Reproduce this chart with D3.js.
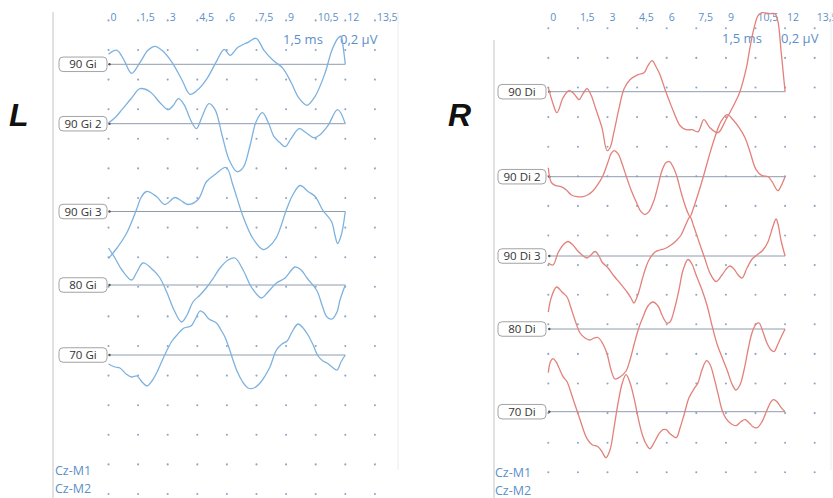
<!DOCTYPE html>
<html><head><meta charset="utf-8">
<script src="https://cdn.jsdelivr.net/npm/d3@7/dist/d3.min.js"></script>
<style>
html,body{margin:0;padding:0;background:#fff;}
svg{display:block;}
</style></head>
<body>
<svg id="chart" width="833" height="498"></svg>
<script>
// ---------- data ----------
const timeTicks = [0, 1.5, 3, 4.5, 6, 7.5, 9, 10.5, 12, 13.5];
const tickLabels = ["0", "1,5", "3", "4,5", "6", "7,5", "9", "10,5", "12", "13,5"];
const leftLabels = ["90 Gi", "90 Gi 2", "90 Gi 3", "80 Gi", "70 Gi"];
const rightLabels = ["90 Di", "90 Di 2", "90 Di 3", "80 Di", "70 Di"];
const channelLabels = ["Cz-M1", "Cz-M2"];
const scaleLabels = ["1,5 ms", "0,2 µV"];

// [time ms, amplitude µV]
const gi90 = [[0,0.10],[0.43,0.14],[0.79,0.04],[1.17,-0.09],[1.6,0.02],[2.0,0.14],[2.36,0.18],[2.71,0.14],[3.22,0.02],[3.73,-0.16],[4.13,-0.30],[4.49,-0.26],[5.0,-0.14],[5.5,0.04],[5.86,0.15],[6.16,0.09],[6.56,0.17],[7.07,0.22],[7.48,0.26],[7.88,0.14],[8.34,0.04],[8.84,-0.04],[9.25,-0.18],[9.66,-0.34],[10.06,-0.41],[10.47,-0.32],[10.97,-0.09],[11.32,0.14],[11.63,0.26],[11.78,0.28],[11.9,0.16],[12,0]];
const gi90b = [[0,0.01],[0.33,0.06],[0.68,0.14],[1.14,0.25],[1.6,0.35],[2.1,0.32],[2.61,0.21],[3.02,0.14],[3.27,0.18],[3.55,0.25],[3.83,0.19],[4.18,0.03],[4.46,-0.05],[4.74,0.07],[5.09,0.20],[5.4,0.14],[5.75,-0.11],[6.11,-0.36],[6.51,-0.48],[6.82,-0.44],[7.17,-0.22],[7.48,0.02],[7.8,0.11],[8.08,0.02],[8.39,-0.13],[8.69,-0.19],[8.95,-0.23],[9.25,-0.15],[9.66,-0.05],[10.01,-0.09],[10.42,-0.14],[10.72,-0.11],[11.12,-0.02],[11.61,0.14],[12,0]];
const gi90c = [[0,-0.47],[0.41,-0.37],[0.91,-0.22],[1.42,0.02],[1.65,0.14],[1.93,0.20],[2.43,0.15],[2.86,0.07],[3.37,0.14],[3.67,0.11],[4.03,0.07],[4.54,0.12],[4.97,0.30],[5.4,0.37],[5.96,0.44],[6.31,0.26],[6.82,-0.05],[7.32,-0.27],[7.83,-0.38],[8.08,-0.36],[8.51,-0.26],[9.02,0.02],[9.35,0.17],[9.71,0.26],[10.11,0.20],[10.47,0.15],[10.87,0.01],[11.3,-0.10],[11.48,-0.24],[11.61,-0.32],[11.79,-0.24],[12,0]];
const gi80 = [[0,0.37],[0.33,0.27],[0.68,0.15],[1.17,0.05],[1.44,0.13],[1.75,0.22],[2.26,0.15],[2.61,0.07],[2.97,-0.08],[3.32,-0.25],[3.7,-0.37],[3.98,-0.30],[4.28,-0.17],[4.64,-0.10],[4.99,-0.02],[5.35,0.08],[5.65,0.17],[6.06,0.25],[6.41,0.27],[6.82,0.15],[7.27,-0.03],[7.75,-0.13],[8.08,-0.07],[8.51,0.02],[8.95,0.07],[9.45,0.18],[9.76,0.15],[10.06,0.07],[10.57,-0.06],[10.82,-0.20],[11.07,-0.32],[11.33,-0.34],[11.58,-0.27],[11.73,-0.15],[12,0]];
const gi70 = [[0,-0.09],[0.33,-0.12],[0.58,-0.13],[0.89,-0.19],[1.17,-0.22],[1.44,-0.21],[1.7,-0.27],[1.95,-0.31],[2.2,-0.26],[2.46,-0.17],[2.71,-0.06],[2.97,0.05],[3.22,0.14],[3.47,0.20],[3.83,0.27],[4.18,0.29],[4.43,0.37],[4.64,0.44],[4.84,0.42],[5.09,0.36],[5.47,0.32],[5.7,0.25],[5.9,0.18],[6.11,0.07],[6.31,-0.05],[6.51,-0.16],[6.77,-0.26],[7.07,-0.33],[7.37,-0.33],[7.68,-0.28],[7.93,-0.21],[8.18,-0.12],[8.51,0.05],[8.79,0.11],[9.05,0.14],[9.3,0.23],[9.6,0.31],[9.86,0.27],[10.11,0.20],[10.37,0.10],[10.62,-0.01],[10.87,-0.06],[11.07,-0.08],[11.33,-0.12],[11.58,-0.15],[11.78,-0.07],[12,0]];

const di90 = [[0,0.04],[0.24,-0.12],[0.44,-0.21],[0.75,-0.06],[1.05,0.01],[1.3,-0.02],[1.56,-0.08],[1.76,-0.02],[1.96,0.03],[2.16,-0.03],[2.42,-0.18],[2.72,-0.36],[2.98,-0.59],[3.13,-0.56],[3.33,-0.40],[3.58,-0.17],[3.84,0.03],[4.14,0.12],[4.55,0.17],[4.85,0.19],[5.05,0.26],[5.26,0.31],[5.46,0.25],[5.66,0.17],[5.92,0.02],[6.17,-0.11],[6.37,-0.21],[6.68,-0.34],[6.99,-0.38],[7.28,-0.38],[7.59,-0.40],[7.88,-0.28],[8.19,-0.36],[8.6,-0.41],[9.0,-0.28],[9.46,-0.11],[9.71,0.00],[10.05,0.25],[10.22,0.44],[10.43,0.64],[10.63,0.76],[10.83,0.79],[11.23,0.78],[11.49,0.78],[11.64,0.70],[11.79,0.42],[11.95,0.10],[12,0]];
const di90b = [[0,0.09],[0.16,-0.06],[0.39,-0.09],[0.64,-0.10],[0.9,-0.13],[1.15,-0.18],[1.45,-0.20],[1.76,-0.20],[2.01,-0.18],[2.27,-0.14],[2.47,-0.09],[2.77,0.01],[3.03,0.15],[3.18,0.23],[3.33,0.26],[3.53,0.23],[3.74,0.13],[3.94,0.01],[4.19,-0.13],[4.45,-0.25],[4.7,-0.35],[4.9,-0.38],[5.1,-0.35],[5.35,-0.24],[5.56,-0.09],[5.76,0.06],[5.96,0.14],[6.14,0.15],[6.32,0.10],[6.52,0.00],[6.72,-0.15],[6.92,-0.28],[7.07,-0.36],[7.18,-0.40],[7.33,-0.33],[7.58,-0.18],[7.84,-0.01],[8.14,0.20],[8.45,0.40],[8.75,0.55],[9.06,0.62],[9.36,0.57],[9.67,0.49],[9.97,0.39],[10.22,0.25],[10.53,0.07],[10.83,0.01],[11.14,0.00],[11.34,-0.05],[11.64,-0.14],[11.8,-0.09],[12,0]];
const di90c = [[0,-0.07],[0.24,-0.09],[0.49,0.03],[0.75,0.11],[1.0,0.145],[1.25,0.11],[1.45,0.06],[1.71,0.01],[1.96,-0.02],[2.16,0.01],[2.37,0.045],[2.57,0.00],[2.72,-0.06],[3.03,-0.12],[3.33,-0.20],[3.63,-0.27],[3.99,-0.36],[4.19,-0.42],[4.34,-0.47],[4.55,-0.38],[4.75,-0.24],[4.95,-0.11],[5.1,-0.04],[5.41,0.04],[5.66,0.06],[5.92,0.075],[6.22,0.11],[6.47,0.15],[6.73,0.21],[6.98,0.32],[7.18,0.39],[7.38,0.29],[7.64,0.14],[7.94,-0.03],[8.19,-0.17],[8.5,-0.255],[8.8,-0.19],[9.06,-0.12],[9.21,-0.10],[9.41,-0.13],[9.62,-0.19],[9.82,-0.22],[10.07,-0.12],[10.33,-0.03],[10.58,0.01],[10.88,0.06],[11.13,0.14],[11.39,0.30],[11.54,0.37],[11.64,0.32],[11.79,0.16],[12,0]];
const di80 = [[0,0.17],[0.16,0.32],[0.42,0.42],[0.69,0.37],[0.95,0.32],[1.15,0.21],[1.35,0.09],[1.61,-0.04],[1.86,-0.09],[2.11,-0.11],[2.32,-0.09],[2.52,-0.085],[2.77,-0.15],[2.98,-0.25],[3.18,-0.41],[3.38,-0.50],[3.63,-0.48],[3.94,-0.42],[4.14,-0.31],[4.34,-0.16],[4.6,0.02],[4.8,0.12],[5.05,0.23],[5.3,0.27],[5.56,0.23],[5.76,0.14],[6.01,0.06],[6.17,0.07],[6.42,0.22],[6.62,0.39],[6.83,0.59],[7.08,0.695],[7.28,0.65],[7.49,0.54],[7.79,0.39],[8.04,0.24],[8.29,0.04],[8.55,-0.15],[8.8,-0.28],[9.06,-0.41],[9.31,-0.55],[9.51,-0.61],[9.71,-0.56],[9.92,-0.41],[10.12,-0.21],[10.32,-0.04],[10.53,0.05],[10.68,0.06],[10.88,-0.03],[11.08,-0.14],[11.29,-0.21],[11.44,-0.225],[11.64,-0.15],[11.85,-0.06],[12,0]];
const di70 = [[0,0.39],[0.11,0.50],[0.24,0.53],[0.39,0.50],[0.54,0.44],[0.75,0.35],[0.95,0.30],[1.1,0.22],[1.3,0.10],[1.61,-0.08],[1.96,-0.27],[2.22,-0.33],[2.52,-0.35],[2.72,-0.40],[2.92,-0.46],[3.13,-0.38],[3.33,-0.16],[3.53,0.08],[3.74,0.28],[3.94,0.37],[4.14,0.29],[4.34,0.14],[4.55,-0.06],[4.75,-0.22],[4.95,-0.32],[5.15,-0.37],[5.36,-0.31],[5.61,-0.22],[5.81,-0.18],[5.97,-0.18],[6.17,-0.22],[6.48,-0.26],[6.68,-0.16],[6.88,-0.03],[7.13,0.14],[7.39,0.23],[7.59,0.29],[7.79,0.42],[8.02,0.51],[8.2,0.47],[8.4,0.34],[8.6,0.18],[8.8,0.02],[9.01,-0.07],[9.26,-0.12],[9.51,-0.14],[9.76,-0.10],[9.97,-0.08],[10.17,-0.11],[10.37,-0.15],[10.58,-0.16],[10.83,-0.10],[11.09,0.02],[11.29,0.10],[11.41,0.12],[11.59,0.10],[11.8,0.04],[12,0]];

const leftSeries = [gi90, gi90b, gi90c, gi80, gi70];
const rightSeries = [di90, di90b, di90c, di80, di70];

// ---------- layout ----------
const panels = [
  { side: "L", sideX: 9, sideY: 126, x0: 108.5, gridTop: 20.4, rows: 17, borderX: 53, farX: 398,
    boxX: 59, color: "#7db2de", labels: leftLabels, series: leftSeries,
    bases: [64.3, 123.7, 211.5, 285, 355], msX: 283, uvX: 340, scaleY: 44, czX: 55, czY: [475, 493] },
  { side: "R", sideX: 448, sideY: 126, x0: 548.3, gridTop: 28.3, rows: 16, borderX: 494, farX: 831,
    boxX: 498, color: "#e2817a", labels: rightLabels, series: rightSeries,
    bases: [91.7, 176.7, 256, 329, 411.7], msX: 722, uvX: 781, scaleY: 43, czX: 495, czY: [477, 495] }
];
const step = 29.6;
const pxPerUnit = 100; // px per µV

const svg = d3.select("#chart");
const font = "'Open Sans', 'Noto Sans', sans-serif";

panels.forEach(p => {
  const x = d3.scaleLinear().domain([0, 13.5]).range([p.x0, p.x0 + step * 9]);
  const g = svg.append("g");

  // borders
  g.append("line").attr("x1", p.borderX).attr("x2", p.borderX).attr("y1", p.side === "L" ? 12 : 40).attr("y2", 498)
    .attr("stroke", "#c4c4c4").attr("stroke-width", 1);
  g.append("line").attr("x1", p.farX).attr("x2", p.farX).attr("y1", 12).attr("y2", 470)
    .attr("stroke", "#ececec").attr("stroke-width", 1);

  // tick labels
  g.selectAll("text.tick").data(timeTicks).join("text")
    .attr("x", (d) => x(d) + 2).attr("y", 21)
    .attr("font-family", font).attr("font-size", 10.5).attr("fill", "#5b8fca")
    .text((d, i) => tickLabels[i]);

  // grid dots
  const rowsArr = d3.range(p.rows).map(k => p.gridTop + k * step);
  rowsArr.forEach(ry => {
    g.selectAll(null).data(timeTicks).join("circle")
      .attr("cx", d => x(d)).attr("cy", ry).attr("r", 1.05)
      .attr("fill", "#8da6c6");
  });

  // scale labels
  g.append("text").attr("x", p.msX).attr("y", p.scaleY).attr("font-family", font).attr("font-size", 13)
    .attr("fill", "#5b8fca").text(scaleLabels[0]);
  g.append("text").attr("x", p.uvX).attr("y", p.scaleY).attr("font-family", font).attr("font-size", 13)
    .attr("fill", "#5b8fca").text(scaleLabels[1]);

  // channel labels
  channelLabels.forEach((c, i) => {
    g.append("text").attr("x", p.czX).attr("y", p.czY[i]).attr("font-family", font).attr("font-size", 12.5)
      .attr("fill", "#5b8fca").text(c);
  });

  // side letter
  svg.append("text").attr("x", p.sideX).attr("y", p.sideY)
    .attr("font-family", "'Liberation Sans', Arial, sans-serif").attr("font-weight", "bold").attr("font-style", "italic")
    .attr("font-size", 32).attr("fill", "#111").text(p.side);

  // traces
  p.series.forEach((s, i) => {
    const base = p.bases[i];
    const y = d3.scaleLinear().domain([-1, 1]).range([base + pxPerUnit, base - pxPerUnit]);
    // baseline
    g.append("line").attr("x1", x(0)).attr("x2", x(12)).attr("y1", y(0)).attr("y2", y(0))
      .attr("stroke", "#8e9cb0").attr("stroke-width", 1);
    g.append("circle").attr("cx", x(0) + 1).attr("cy", y(0)).attr("r", 1.2).attr("fill", "#555");
    // label box
    const bw = 48, bh = 14.5;
    g.append("rect").attr("x", p.boxX).attr("y", y(0) - bh / 2).attr("width", bw).attr("height", bh)
      .attr("rx", 4).attr("fill", "#fff").attr("stroke", "#a3a3a3").attr("stroke-width", 1);
    g.append("text").attr("x", p.boxX + bw / 2).attr("y", y(0) + 4).attr("text-anchor", "middle")
      .attr("font-family", font).attr("font-size", 11.5).attr("fill", "#333").text(p.labels[i]);
    // trace
    const line = d3.line().x(d => x(d[0])).y(d => y(d[1])).curve(d3.curveCatmullRom.alpha(0.5));
    g.append("path").datum(s).attr("d", line).attr("fill", "none")
      .attr("stroke", p.color).attr("stroke-width", 1.3).attr("stroke-linejoin", "round");
  });
});
</script>
</body></html>
